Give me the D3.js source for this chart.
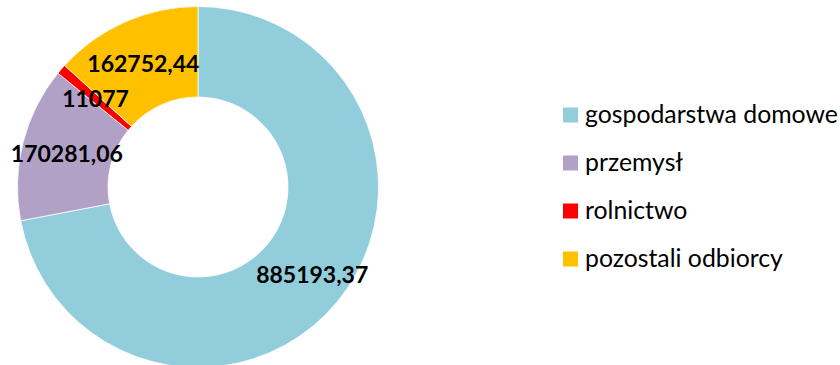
<!DOCTYPE html>
<html>
<head>
<meta charset="utf-8">
<script src="https://cdn.jsdelivr.net/npm/d3@7"></script>
<style>
  html, body { margin: 0; padding: 0; background: #fff; }
  svg { display: block; }
</style>
</head>
<body>
<svg id="chart" width="840" height="365"></svg>
<script>
// Odbiorcy energii – udział w zużyciu
const categories = ["gospodarstwa domowe", "przemysł", "rolnictwo", "pozostali odbiorcy"];
const values = [885193.37, 170281.06, 11077, 162752.44];
const valueLabels = ["885193,37", "170281,06", "11077", "162752,44"];
const colors = ["#92CDDC", "#B2A1C7", "#FF0000", "#FFC000"];

const svg = d3.select("#chart");
const cx = 198, cy = 187;
const outerR = 180.5, innerR = 90;

// manual shift of the largest slice's label (moved off the centroid)
const labelShift = { "gospodarstwa domowe": [10, 1] };

const data = categories.map((c, i) => ({ name: c, value: values[i], label: valueLabels[i], color: colors[i] }));

const pie = d3.pie().value(d => d.value).sort(null);
const arc = d3.arc().innerRadius(innerR).outerRadius(outerR);

const g = svg.append("g").attr("transform", `translate(${cx},${cy})`);
const arcs = pie(data);

g.selectAll("path.slice")
  .data(arcs)
  .join("path")
  .attr("class", "slice")
  .attr("d", arc)
  .attr("fill", d => d.data.color)
  .attr("stroke", "#fff")
  .attr("stroke-width", 0.75);

g.selectAll("text.val")
  .data(arcs)
  .join("text")
  .attr("class", "val")
  .attr("transform", d => {
    const [x, y] = arc.centroid(d);
    const [sx, sy] = labelShift[d.data.name] || [0, 0];
    return `translate(${x + sx},${y + sy})`;
  })
  .attr("text-anchor", "middle")
  .attr("dy", "0.36em")
  .attr("font-family", "Lato, 'Liberation Sans', sans-serif")
  .attr("font-weight", "bold")
  .attr("font-size", 23)
  .attr("fill", "#000")
  .text(d => d.data.label);

// Legenda
const legendY = d3.scalePoint().domain(categories).range([115, 259]);
const legend = svg.append("g");
const items = legend.selectAll("g.item")
  .data(data)
  .join("g")
  .attr("class", "item")
  .attr("transform", d => `translate(563,${legendY(d.name)})`);

items.append("rect")
  .attr("x", 0).attr("y", -7.5)
  .attr("width", 15).attr("height", 15)
  .attr("fill", d => d.color);

items.append("text")
  .attr("x", 22)
  .attr("dy", "0.34em")
  .attr("font-family", "Lato, 'Liberation Sans', sans-serif")
  .attr("font-size", 24.8)
  .attr("fill", "#000")
  .text(d => d.name);
</script>
</body>
</html>
